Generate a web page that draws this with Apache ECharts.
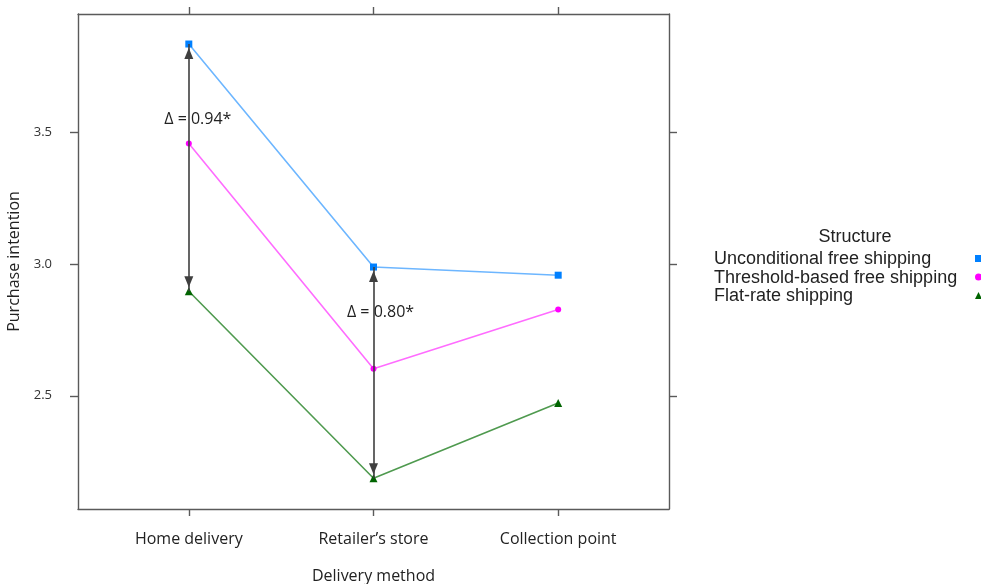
<!DOCTYPE html>
<html>
<head>
<meta charset="utf-8">
<script src="https://cdn.jsdelivr.net/npm/echarts@6/dist/echarts.min.js"></script>
<style>
  html, body { margin: 0; padding: 0; background: #ffffff; }
  #chart { width: 981px; height: 584px; }
</style>
</head>
<body>
<div id="chart"></div>
<script>
// Delivery methods on the x axis (positions 1, 2, 3)
const deliveryMethods = ['Home delivery', 'Retailer\u2019s store', 'Collection point'];
const methodPositions = [1, 2, 3];

// Mean purchase intention per shipping-fee structure
const structures = ['Unconditional free shipping', 'Threshold-based free shipping', 'Flat-rate shipping'];
const unconditional = [3.836, 2.989, 2.958];
const thresholdBased = [3.458, 2.603, 2.828];
const flatRate = [2.897, 2.187, 2.473];

// Y tick labels
const yTicks = [2.5, 3.0, 3.5];

// Significant differences (unconditional vs flat-rate) annotated with arrows
const deltaPositions = [1, 2];
const deltaLabels = ['\u0394 = 0.94*', '\u0394 = 0.80*'];

const labelFont = '"Open Sans", "Noto Sans", sans-serif';
const legendFont = '"Liberation Sans", Arial, sans-serif';
const frameColor = '#5a5a5a';

// Filled arrowhead whose tip sits a few pixels short of the symbol centre
const arrowHead = 'path://M0,-15 M0,4 L4.5,15 L-4.5,15 Z';

function toPoints(values) {
  return values.map((v, i) => [methodPositions[i], v]);
}

const arrowLines = deltaPositions.map(p => {
  const i = methodPositions.indexOf(p);
  return [{ coord: [p, unconditional[i]] }, { coord: [p, flatRate[i]] }];
});

const deltaTextY = [3.55, 2.817];
const deltaOffsets = [[9, 0], [7, 0]];
const deltaMarks = deltaPositions.map((p, k) => ({
  coord: [p, deltaTextY[k]],
  label: { formatter: deltaLabels[k], offset: deltaOffsets[k] }
}));

const legendIcons = ['rect', 'circle', 'triangle'];
const legendItems = structures.map((s, i) => ({ name: s, icon: legendIcons[i] }));

const chart = echarts.init(document.getElementById('chart'), null, { renderer: 'canvas' });

const axisLineStyle = { show: true, lineStyle: { color: frameColor, width: 1.4 } };
const tickStyle = { lineStyle: { color: frameColor, width: 1.4 } };
const legendCommon = {
  orient: 'vertical',
  align: 'left',
  padding: 0,
  selectedMode: false,
  textStyle: { fontFamily: legendFont, fontSize: 18, color: '#222', lineHeight: 18.5 }
};

chart.setOption({
  animation: false,
  backgroundColor: '#ffffff',
  title: {
    text: 'Structure',
    left: 850,
    top: 223,
    textAlign: 'center',
    textStyle: { fontFamily: legendFont, fontSize: 18, fontWeight: 'normal', color: '#222' }
  },
  legend: [
    // key labels
    Object.assign({}, legendCommon, {
      left: 709,
      top: 250,
      itemGap: 0,
      itemWidth: 0,
      itemHeight: 18.5,
      data: structures.map(s => ({ name: s, icon: 'none' }))
    }),
    // key symbols, right-hand column
    Object.assign({}, legendCommon, {
      left: 975,
      top: 255,
      itemGap: 11.5,
      itemWidth: 7,
      itemHeight: 7,
      formatter: () => '',
      data: legendItems
    })
  ],
  grid: {
    left: 78, right: 312, top: 14, bottom: 75,
    outerBoundsMode: 'none',
    containLabel: false,
    show: false
  },
  xAxis: [
    {
      type: 'value', min: 0.4, max: 3.6, position: 'bottom',
      name: 'Delivery method', nameLocation: 'middle', nameGap: 59,
      nameTextStyle: { fontFamily: labelFont, fontSize: 16, color: '#222' },
      axisLine: axisLineStyle,
      axisTick: { show: true, length: 7, customValues: methodPositions, ...tickStyle },
      axisLabel: {
        customValues: methodPositions, margin: 22,
        fontFamily: labelFont, fontSize: 16, color: '#222',
        formatter: v => deliveryMethods[methodPositions.indexOf(Math.round(v))] || ''
      },
      splitLine: { show: false }
    },
    {
      type: 'value', min: 0.4, max: 3.6, position: 'top',
      axisLine: axisLineStyle,
      axisTick: { show: true, length: 7, customValues: methodPositions, ...tickStyle },
      axisLabel: { show: false },
      splitLine: { show: false }
    }
  ],
  yAxis: [
    {
      type: 'value', min: 2.07, max: 3.95, position: 'left',
      name: 'Purchase intention', nameLocation: 'middle', nameGap: 47,
      nameTextStyle: { fontFamily: labelFont, fontSize: 16, color: '#222' },
      axisLine: axisLineStyle,
      axisTick: { show: true, length: 8, customValues: yTicks, ...tickStyle },
      axisLabel: {
        customValues: yTicks, margin: 26,
        fontFamily: labelFont, fontSize: 13, color: '#333',
        formatter: v => Number(v).toFixed(1)
      },
      splitLine: { show: false }
    },
    {
      type: 'value', min: 2.07, max: 3.95, position: 'right',
      axisLine: axisLineStyle,
      axisTick: { show: true, length: 8, customValues: yTicks, ...tickStyle },
      axisLabel: { show: false },
      splitLine: { show: false }
    }
  ],
  series: [
    {
      name: structures[0], type: 'line', data: toPoints(unconditional),
      symbol: 'rect', symbolSize: 7,
      itemStyle: { color: '#0080ff' },
      lineStyle: { color: '#6db6ff', width: 1.6 },
      z: 3
    },
    {
      name: structures[1], type: 'line', data: toPoints(thresholdBased),
      symbol: 'circle', symbolSize: 6,
      itemStyle: { color: '#ff00ff' },
      lineStyle: { color: '#ff6cff', width: 1.6 },
      z: 3
    },
    {
      name: structures[2], type: 'line', data: toPoints(flatRate),
      symbol: 'triangle', symbolSize: 8,
      itemStyle: { color: '#006400' },
      lineStyle: { color: '#4f9a4f', width: 1.6 },
      z: 3
    },
    {
      name: 'delta', type: 'line', data: [],
      markLine: {
        silent: true, animation: false,
        symbol: [arrowHead, arrowHead], symbolSize: [9, 30],
        lineStyle: { color: '#3f3f3f', width: 1.6, type: 'solid' },
        itemStyle: { color: '#3f3f3f' },
        label: { show: false },
        data: arrowLines
      },
      markPoint: {
        silent: true, animation: false,
        symbol: 'circle', symbolSize: 0,
        label: {
          show: true, position: 'inside',
          fontFamily: labelFont, fontSize: 16, color: '#222'
        },
        data: deltaMarks
      },
      z: 2
    }
  ]
});
</script>
</body>
</html>
